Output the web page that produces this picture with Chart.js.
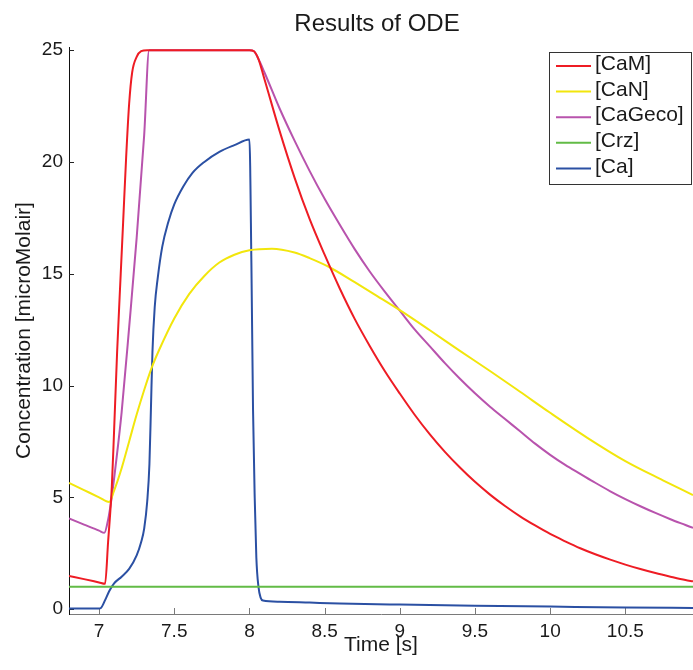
<!DOCTYPE html>
<html>
<head>
<meta charset="utf-8">
<script src="https://cdn.jsdelivr.net/npm/chart.js@4.4.1/dist/chart.umd.min.js"></script>
<style>
  html, body { margin: 0; padding: 0; background: #ffffff; }
  #wrap { width: 693px; height: 670px; }
</style>
</head>
<body>
<div id="wrap"><canvas id="c" width="693" height="670"></canvas></div>
<script>
// ---------- data ----------
const chartTitle = 'Results of ODE';
const xAxisTitle = 'Time [s]';
const yAxisTitle = 'Concentration [microMolair]';
const seriesNames = ['[CaM]', '[CaN]', '[CaGeco]', '[Crz]', '[Ca]'];
const seriesColors = ['#ee1c24', '#f2e60c', '#b853ad', '#62bb46', '#2b50a3'];

const camTime = [6.8, 6.9, 7.0, 7.04, 7.06, 7.085, 7.1, 7.12, 7.144, 7.16, 7.18, 7.2, 7.22, 7.25, 7.28, 7.32, 7.6, 8.0, 8.03, 8.06, 8.1, 8.2, 8.3, 8.4, 8.5, 8.6, 8.7, 8.8, 8.9, 9.0, 9.1, 9.2, 9.3, 9.4, 9.5, 9.6, 9.7, 9.8, 9.9, 10.0, 10.1, 10.2, 10.3, 10.4, 10.5, 10.6, 10.7, 10.8, 10.9, 10.95];
const camValues = [1.48, 1.34, 1.19, 1.13, 3.0, 5.5, 8.0, 11.5, 15.0, 17.3, 20.2, 22.6, 24.0, 24.7, 24.95, 25, 25, 25, 24.95, 24.6, 23.7, 21.4, 19.3, 17.45, 15.85, 14.35, 12.98, 11.77, 10.65, 9.64, 8.68, 7.81, 7.03, 6.33, 5.69, 5.12, 4.61, 4.15, 3.74, 3.36, 3.03, 2.72, 2.45, 2.21, 1.99, 1.79, 1.61, 1.45, 1.3, 1.24];

const canTime = [6.8, 6.9, 7.0, 7.067, 7.1, 7.15, 7.2, 7.25, 7.3, 7.35, 7.4, 7.5, 7.6, 7.7, 7.8, 7.9, 8.0, 8.15, 8.3, 8.4, 8.53, 8.7, 8.85, 9.0, 9.2, 9.4, 9.6, 9.8, 10.0, 10.25, 10.5, 10.75, 10.95];
const canValues = [5.64, 5.32, 5.0, 4.79, 5.3, 6.3, 7.5, 8.7, 9.8, 10.8, 11.6, 13.0, 14.1, 14.9, 15.5, 15.85, 16.05, 16.12, 15.95, 15.7, 15.3, 14.62, 14.0, 13.37, 12.47, 11.55, 10.65, 9.72, 8.78, 7.65, 6.62, 5.76, 5.1];

const gecoTime = [6.8, 6.9, 7.0, 7.035, 7.06, 7.084, 7.11, 7.15, 7.2, 7.25, 7.3, 7.333, 7.6, 8.0, 8.03, 8.06, 8.1, 8.2, 8.3, 8.4, 8.5, 8.6, 8.7, 8.8, 8.9, 9.0, 9.1, 9.2, 9.3, 9.4, 9.5, 9.6, 9.7, 9.8, 9.9, 10.0, 10.1, 10.2, 10.3, 10.4, 10.5, 10.6, 10.7, 10.8, 10.9, 10.95];
const gecoValues = [4.05, 3.78, 3.51, 3.41, 4.0, 5.0, 6.4, 8.8, 12.6, 16.6, 21.2, 25, 25, 25, 24.95, 24.6, 24.0, 22.4, 20.95, 19.6, 18.35, 17.2, 16.1, 15.1, 14.2, 13.35, 12.5, 11.75, 11.0, 10.3, 9.65, 9.05, 8.5, 7.95, 7.4, 6.9, 6.45, 6.05, 5.65, 5.27, 4.92, 4.6, 4.3, 4.02, 3.76, 3.63];

const crzTime = [6.8, 10.95];
const crzValues = [1.0, 1.0];

const caTime = [6.8, 7.0, 7.012, 7.04, 7.067, 7.1, 7.15, 7.2, 7.25, 7.28, 7.3, 7.32, 7.335, 7.345, 7.355, 7.37, 7.39, 7.42, 7.46, 7.5, 7.56, 7.62, 7.7, 7.8, 7.9, 8.0, 8.013, 8.024, 8.035, 8.046, 8.06, 8.075, 8.09, 8.2, 8.4, 8.6, 9.0, 9.5, 10.0, 10.5, 10.95];
const caValues = [0.03, 0.03, 0.05, 0.4, 0.8, 1.15, 1.45, 1.8, 2.4, 3.0, 3.6, 4.8, 6.5, 9.0, 11.5, 13.5, 14.8, 16.2, 17.3, 18.1, 18.9, 19.5, 20.0, 20.45, 20.75, 21.0, 15.5, 8.9, 5.0, 2.3, 1.0, 0.5, 0.38, 0.33, 0.29, 0.25, 0.2, 0.15, 0.11, 0.07, 0.05];

const xRange = [6.8, 10.95];
const yRange = [-0.22, 25.14];
const xStep = 0.5;
const yStep = 5;

// ---------- chart ----------
const FONT = "'Liberation Sans', Arial, Helvetica, sans-serif";
Chart.defaults.font.family = FONT;
Chart.defaults.color = '#1a1a1a';

const seriesTimes = [camTime, canTime, gecoTime, crzTime, caTime];
const seriesValues = [camValues, canValues, gecoValues, crzValues, caValues];

const datasets = seriesNames.map((name, i) => ({
  label: name,
  data: seriesTimes[i].map((t, j) => ({ x: t, y: seriesValues[i][j] })),
  borderColor: seriesColors[i],
  backgroundColor: seriesColors[i],
  borderWidth: 2,
  pointRadius: 0,
  showLine: true,
  fill: false,
  cubicInterpolationMode: 'monotone'
}));

const decorPlugin = {
  id: 'decor',
  beforeDatasetsDraw(chart) {
    const { ctx, chartArea: a } = chart;
    const xs = chart.scales.x, ys = chart.scales.y;
    ctx.save();
    ctx.lineWidth = 1;
    ctx.strokeStyle = '#222222';
    ys.ticks.forEach(t => {
      const py = Math.round(ys.getPixelForValue(t.value)) + 0.5;
      ctx.beginPath(); ctx.moveTo(a.left, py); ctx.lineTo(a.left + 5, py); ctx.stroke();
    });
    ctx.strokeStyle = '#7a7a7a';
    xs.ticks.forEach(t => {
      const px = Math.round(xs.getPixelForValue(t.value)) + 0.5;
      ctx.beginPath(); ctx.moveTo(px, a.bottom); ctx.lineTo(px, a.bottom - 6); ctx.stroke();
    });
    ctx.restore();
  },
  afterDraw(chart) {
    const { ctx } = chart;
    ctx.save();
    // title
    ctx.fillStyle = '#1a1a1a';
    ctx.font = '24px ' + FONT;
    ctx.textAlign = 'center';
    ctx.textBaseline = 'alphabetic';
    ctx.fillText(chartTitle, 377, 31);
    // legend
    const bx = 549.5, by = 52.5, bw = 142, bh = 132;
    ctx.fillStyle = '#ffffff';
    ctx.fillRect(bx, by, bw, bh);
    ctx.strokeStyle = '#333333';
    ctx.lineWidth = 1;
    ctx.strokeRect(bx, by, bw, bh);
    ctx.font = '21px ' + FONT;
    ctx.textAlign = 'left';
    chart.data.datasets.forEach((ds, i) => {
      const ly = 66 + i * 25.6;
      ctx.strokeStyle = ds.borderColor;
      ctx.lineWidth = 2;
      ctx.beginPath(); ctx.moveTo(556, ly); ctx.lineTo(591, ly); ctx.stroke();
      ctx.fillStyle = '#1a1a1a';
      ctx.fillText(ds.label, 595, ly + 4.2);
    });
    ctx.restore();
  }
};

new Chart(document.getElementById('c'), {
  type: 'scatter',
  data: { datasets },
  options: {
    responsive: false,
    animation: false,
    layout: { padding: { top: 47, left: 0, right: 0, bottom: 0 } },
    plugins: { legend: { display: false }, title: { display: false }, tooltip: { enabled: false } },
    scales: {
      x: {
        type: 'linear',
        min: xRange[0], max: xRange[1],
        grid: { display: true, drawOnChartArea: false, drawTicks: false },
        border: { display: true, color: '#7a7a7a', width: 1 },
        ticks: {
          stepSize: xStep, includeBounds: false, padding: 6,
          font: { size: 19 }, color: '#1a1a1a', maxRotation: 0,
          callback: v => String(Math.round(v * 100) / 100)
        },
        title: { display: true, text: xAxisTitle, font: { size: 21 }, color: '#1a1a1a', padding: { top: 0, bottom: 12 } },
        afterFit: s => { s.height = 56; }
      },
      y: {
        type: 'linear',
        min: yRange[0], max: yRange[1],
        grid: { display: true, drawOnChartArea: false, drawTicks: false },
        border: { display: true, color: '#111111', width: 1 },
        ticks: {
          stepSize: yStep, includeBounds: false, padding: 6,
          font: { size: 19 }, color: '#1a1a1a',
          callback: v => String(v)
        },
        title: { display: true, text: yAxisTitle, font: { size: 21 }, color: '#1a1a1a', padding: { top: 12, bottom: 0 } },
        afterFit: s => { s.width = 69; }
      }
    }
  },
  plugins: [decorPlugin]
});
</script>
</body>
</html>
